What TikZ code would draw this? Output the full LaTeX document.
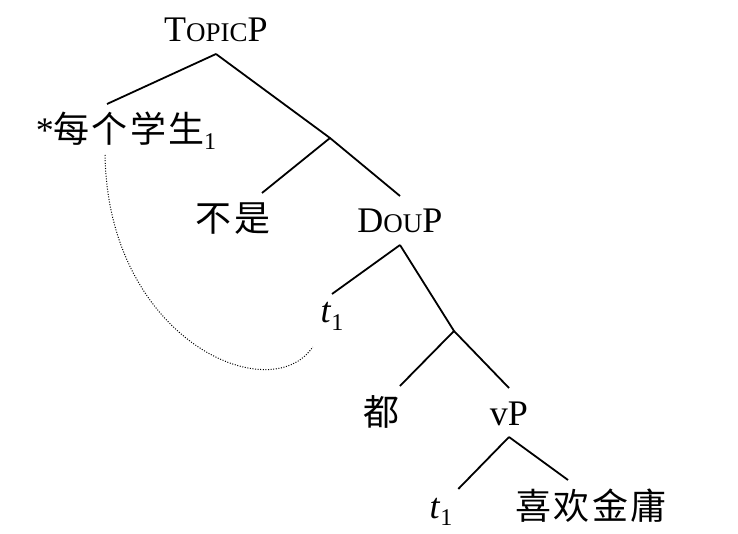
\documentclass[tikz,border=0pt]{standalone}
\usepackage{fontspec}
\setmainfont{Liberation Serif}
\newfontfamily\cjk[LetterSpace=6]{Noto Sans CJK SC}
\usetikzlibrary{positioning}
\newcommand{\smallcap}[1]{{\fontsize{27}{30}\selectfont #1}}
\newcommand{\idx}[1]{\raisebox{-7pt}{\rmfamily\fontsize{24}{26}\selectfont #1}}

\begin{document}
\begin{tikzpicture}[x=1pt, y=-1pt, line width=1.8pt,
    lat/.style={inner sep=0pt, outer ysep=12pt, anchor=base, text height=25pt, text depth=0pt,
        font=\fontsize{36}{40}\selectfont},
    han/.style={inner sep=0pt, outer ysep=12pt, anchor=base, text height=27pt, text depth=0pt,
        font=\cjk\fontsize{36}{40}\selectfont},
    trace/.style={inner sep=0pt, outer ysep=12pt, anchor=base, text height=17pt, text depth=0pt,
        font=\fontsize{36}{40}\selectfont}]
    \useasboundingbox (0,0) rectangle (738,534);

    % Labels of the tree
    \node (topicp) [lat] at (216,42) {T\smallcap{OPIC}P};
    \node (quant) [han] at (126,143) {{\rmfamily *}每个学生\idx{1}};
    \node (bushi) [han] at (233,232) {不是};
    \node (doup) [lat] at (400,233) {D\smallcap{OU}P};
    \node (tup) [trace] at (332,323) {\textit{t}\idx{1}};
    \node (dou) [han] at (381,425) {都};
    \node (vp) [lat] at (509,425) {vP};
    \node (tlow) [trace] at (441,518) {\textit{t}\idx{1}};
    \node (xihuan) [han] at (591,519) {喜欢金庸};

    % Branching points
    \coordinate (j1) at (330,138);
    \coordinate (j2) at (454,331);

    % Branches
    \draw (topicp.south) -- ([xshift=-19pt]quant.north);
    \draw (topicp.south) -- (j1) -- (doup.north);
    \draw (j1) -- ([xshift=29pt]bushi.north);
    \draw (doup.south) -- (tup.north);
    \draw (doup.south) -- (j2) -- (vp.north);
    \draw (j2) -- (dou.north east);
    \draw (vp.south) -- ([xshift=5pt]tlow.north east);
    \draw (vp.south) -- ([xshift=-23pt]xihuan.north);

    % Binding of the trace
    \draw[line width=1pt, dash pattern=on 1pt off 1.6pt]
        ([xshift=-21pt]quant.south) .. controls (108,340) and (270,410) .. ([xshift=-7pt,yshift=-12pt]tup.south west);
\end{tikzpicture}
\end{document}
